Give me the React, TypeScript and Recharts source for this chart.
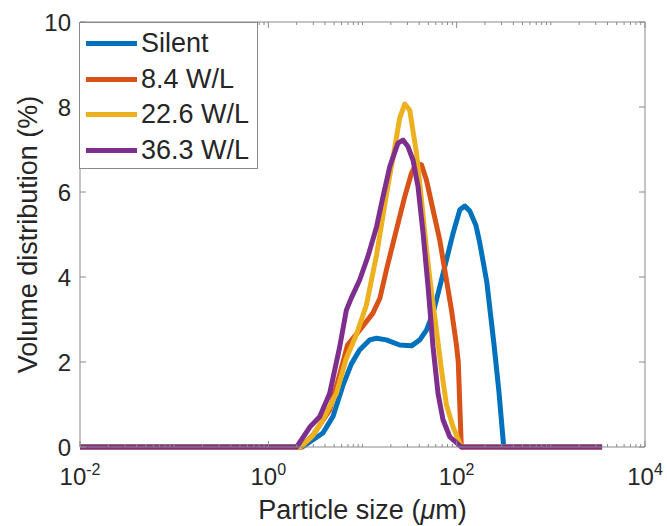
import React from "react";
import {
  Legend,
  Line,
  LineChart,
  ReferenceLine,
  XAxis,
  YAxis,
} from "recharts";

// particle size (um) / volume distribution (%)
const silentSize = [0.01, 2.3, 3.8, 4.86, 6.2, 7.6, 9.3, 11.9, 14.1, 17.9, 24.8, 33.1, 40.6, 47.8, 56.1, 66.1, 77.9, 91.6, 108, 122, 138, 160, 176, 209, 248, 280, 316, 3500];
const silentVol = [0, 0, 0.33, 0.72, 1.45, 1.95, 2.28, 2.52, 2.56, 2.52, 2.4, 2.38, 2.52, 2.75, 3.15, 3.77, 4.4, 5.03, 5.58, 5.67, 5.55, 5.22, 4.8, 3.88, 2.45, 1.34, 0, 0];

const w84Size = [0.01, 2.24, 2.98, 4.48, 5.72, 6.93, 9.33, 12.9, 15.3, 17.9, 22.9, 28.1, 33.1, 37.4, 42.3, 47.8, 56.1, 66.1, 77.9, 88.1, 99.5, 104, 112, 3500];
const w84Vol = [0, 0, 0.28, 0.87, 1.7, 2.4, 2.75, 3.15, 3.5, 4.16, 5.11, 5.89, 6.44, 6.68, 6.64, 6.28, 5.58, 4.87, 3.93, 3.22, 2.4, 2.0, 0, 0];

const w226Size = [0.01, 2.2, 2.96, 3.8, 5.28, 6.74, 8.61, 11.0, 14.1, 17.9, 22.0, 24.8, 28.1, 31.7, 37.4, 42.3, 47.8, 54.0, 61.0, 69.0, 77.9, 91.6, 112, 3500];
const w226Vol = [0, 0, 0.26, 0.64, 1.26, 2.09, 2.64, 3.34, 4.52, 5.93, 7.04, 7.74, 8.07, 7.93, 6.92, 5.81, 4.64, 3.65, 2.75, 1.81, 0.99, 0.47, 0, 0];

const w363Size = [0.01, 2.0, 2.76, 3.51, 4.48, 5.72, 6.74, 7.62, 9.33, 11.4, 14.1, 16.5, 19.5, 23.8, 26.9, 30.4, 34.4, 38.9, 44.0, 49.7, 56.1, 63.4, 71.6, 84.5, 112, 3500];
const w363Vol = [0, 0, 0.47, 0.71, 1.26, 2.35, 3.22, 3.51, 3.93, 4.48, 5.18, 5.89, 6.6, 7.15, 7.22, 7.07, 6.75, 6.12, 5.03, 3.77, 2.36, 1.26, 0.64, 0.24, 0, 0];

const seriesNames = ["Silent", "8.4 W/L", "22.6 W/L", "36.3 W/L"];
const seriesColors = ["#0072BD", "#D95319", "#EDB120", "#7E2F8E"];

const majorXTicks = [0.01, 1, 100, 10000];
const yTicks = [0, 2, 4, 6, 8, 10];

// minor log ticks (2..9 per decade) + majors
const xTicks: number[] = [];
for (let d = -2; d < 4; d++) {
  for (let k = 1; k < 10; k++) xTicks.push(+(k * Math.pow(10, d)).toPrecision(3));
}
xTicks.push(10000);

const toPoints = (xs: number[], ys: number[]) => xs.map((x, i) => ({ x, v: ys[i] }));
const series = [
  toPoints(silentSize, silentVol),
  toPoints(w84Size, w84Vol),
  toPoints(w226Size, w226Vol),
  toPoints(w363Size, w363Vol),
];

const FONT = "'Liberation Sans', Arial, Helvetica, sans-serif";
const AXIS = "#8a8a8a";
const TEXT = "#262626";
const W = 667;
const H = 526;
const M = { top: 22, right: 22, left: 0, bottom: 0 };
const Y_W = 80;
const X_H = 79;
const PLOT_W = W - M.left - M.right - Y_W;
const PLOT_H = H - M.top - M.bottom - X_H;
const LINE_W = 5;

const isMajor = (v: number) => majorXTicks.some((m) => Math.abs(m - v) / m < 1e-6);

const XTick = (props: any) => {
  const { x, y, payload } = props;
  const v = payload.value as number;
  const major = isMajor(v);
  const len = major ? 6 : 3;
  return (
    <g>
      <line x1={x} x2={x} y1={y} y2={y - len} stroke={AXIS} />
      <line x1={x} x2={x} y1={y - PLOT_H} y2={y - PLOT_H + len} stroke={AXIS} />
      {major && (
        <text x={x} y={y + 38} textAnchor="middle" fontSize={24} fill={TEXT} fontFamily={FONT}>
          10
          <tspan dy={-10} fontSize={16}>
            {Math.round(Math.log10(v))}
          </tspan>
        </text>
      )}
    </g>
  );
};

const YTick = (props: any) => {
  const { x, y, payload } = props;
  return (
    <g>
      <line x1={x} x2={x + 6} y1={y} y2={y} stroke={AXIS} />
      <line x1={x + PLOT_W - 6} x2={x + PLOT_W} y1={y} y2={y} stroke={AXIS} />
      <text x={x - 9} y={y} dy="0.36em" textAnchor="end" fontSize={24} fill={TEXT} fontFamily={FONT}>
        {payload.value}
      </text>
    </g>
  );
};

const YTitle = (props: any) => {
  const vb = props.viewBox || {};
  const cx = 27;
  const cy = vb.height ? vb.y + vb.height / 2 : M.top + PLOT_H / 2;
  return (
    <text
      x={cx}
      y={cy}
      transform={`rotate(-90 ${cx} ${cy})`}
      textAnchor="middle"
      dy="0.36em"
      fontSize={27}
      fill={TEXT}
      fontFamily={FONT}
    >
      Volume distribution (%)
    </text>
  );
};

const XTitle = (props: any) => {
  const vb = props.viewBox || {};
  const cx = vb.width ? vb.x + vb.width / 2 : M.left + Y_W + PLOT_W / 2;
  return (
    <text x={cx} y={H - 7} textAnchor="middle" fontSize={27} fill={TEXT} fontFamily={FONT}>
      Particle size (<tspan fontStyle="italic">μ</tspan>m)
    </text>
  );
};

// legend drawn in series order (recharts would sort it by name)
const LegendBox = () => (
  <div
    style={{
      border: `1px solid ${AXIS}`,
      background: "#fff",
      padding: "3px 8px 0 6px",
      fontFamily: FONT,
      fontSize: 27,
      color: TEXT,
    }}
  >
    {seriesNames.map((name, i) => (
      <div key={name} style={{ display: "flex", alignItems: "center", height: 35.5 }}>
        <span style={{ display: "inline-block", width: 51, height: LINE_W, background: seriesColors[i], marginRight: 4 }} />
        <span style={{ lineHeight: "35px", whiteSpace: "nowrap" }}>{name}</span>
      </div>
    ))}
  </div>
);

export default function App() {
  return (
    <div style={{ position: "absolute", left: 0, top: 0, width: W, height: H, background: "#fff" }}>
      <LineChart width={W} height={H} margin={M}>
        <XAxis
          dataKey="x"
          type="number"
          scale="log"
          domain={[0.01, 10000]}
          ticks={xTicks}
          interval={0}
          tick={<XTick />}
          tickLine={false}
          tickSize={0}
          tickMargin={0}
          height={X_H}
          stroke={AXIS}
          allowDataOverflow
          label={<XTitle />}
        />
        <YAxis
          type="number"
          domain={[0, 10]}
          ticks={yTicks}
          interval={0}
          tick={<YTick />}
          tickLine={false}
          tickSize={0}
          tickMargin={0}
          width={Y_W}
          stroke={AXIS}
          label={<YTitle />}
        />
        <ReferenceLine y={10} stroke={AXIS} />
        <ReferenceLine x={10000} stroke={AXIS} />
        {series.map((pts, i) => (
          <Line
            key={seriesNames[i]}
            data={pts}
            dataKey="v"
            name={seriesNames[i]}
            type="linear"
            stroke={seriesColors[i]}
            strokeWidth={LINE_W}
            strokeLinejoin="round"
            dot={false}
            activeDot={false}
            isAnimationActive={false}
          />
        ))}
        <Legend
          layout="vertical"
          align="center"
          verticalAlign="middle"
          content={<LegendBox />}
          wrapperStyle={{ left: 79, top: 22, width: "auto", height: "auto" }}
        />
      </LineChart>
    </div>
  );
}
